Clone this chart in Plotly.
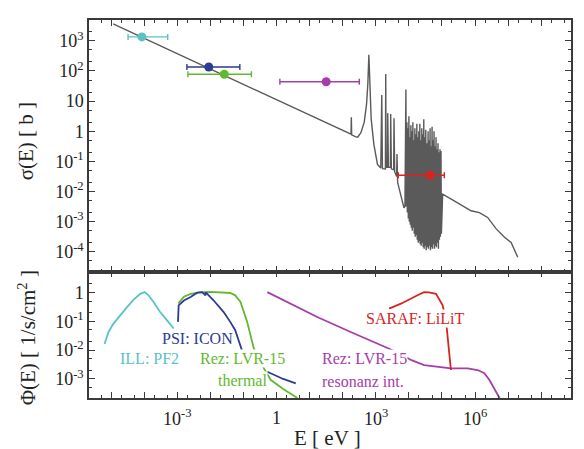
import numpy as np
import plotly.graph_objects as go
from plotly.subplots import make_subplots

# ---------------- data (log10 values) ----------------
# cross section sigma(E): smooth 1/v part + resolved resonances (log10 E [eV], log10 sigma [b])
xs_logE = [-4.94, 2.20, 2.25, 2.26, 2.27, 2.38, 2.45, 2.55, 2.65, 2.72, 2.76, 2.79, 2.82, 2.86,
           2.94, 3.05, 3.15, 3.18, 3.20, 3.29, 3.30, 3.31, 3.35, 3.36, 3.38, 3.44, 3.45, 3.47,
           3.54, 3.55, 3.57, 3.63, 3.64, 3.66, 3.70, 3.81, 3.85, 3.88]
xs_logS = [3.56, -0.08, -0.10, 0.46, -0.12, -0.18, -0.20, -0.05, 0.30, 0.90, 1.60, 2.54, 1.50, 0.40,
           -0.43, -1.10, -1.22, 1.20, -1.24, -1.25, 1.90, -1.20, -1.20, 0.60, -1.20, -1.20, 0.57, -1.25,
           -1.28, 0.43, -1.35, -1.50, -0.76, -1.70, -1.88, -2.31, -2.54, -2.50]
# unresolved resonance band (columns: log10 E, top, bottom)
band_logE = [3.91, 3.94, 3.97, 4.00, 4.03, 4.06, 4.09, 4.12, 4.15, 4.18, 4.21, 4.24, 4.27, 4.30,
             4.33, 4.36, 4.39, 4.42, 4.45, 4.48, 4.51, 4.55, 4.58, 4.61, 4.64, 4.67, 4.70, 4.73,
             4.76, 4.79, 4.82, 4.85, 4.88, 4.91, 4.94, 4.97]
band_top = [1.38, 0.30, 0.10, 0.50, -0.20, 0.20, 0.00, 0.30, -0.30, 0.10, -0.10, 0.25, -0.20, 0.00,
            0.25, -0.30, 0.10, -0.10, 0.40, -0.20, 0.05, -0.40, 0.00, -0.30, 0.10, -0.50, 0.15, -0.30,
            0.00, -0.50, -0.20, -0.60, -0.40, -0.70, -0.60, -0.66]
band_bot = [-2.50, -2.70, -2.90, -3.00, -3.10, -3.20, -3.30, -3.20, -3.40, -3.50, -3.45, -3.60, -3.70, -3.65,
            -3.75, -3.80, -3.70, -3.85, -3.90, -3.80, -3.95, -3.85, -3.90, -3.80, -3.95, -3.85, -3.90, -3.75,
            -3.90, -3.80, -3.85, -3.70, -3.90, -3.60, -3.50, -3.40]
tail_logE = [5.02, 5.37, 5.88, 6.13, 6.38, 6.64, 6.89, 7.09, 7.29]
tail_logS = [-2.09, -2.31, -2.64, -2.70, -2.86, -3.24, -3.52, -3.69, -4.18]

# measured points with energy ranges
pt_names = ["ILL: PF2", "PSI: ICON", "Rez: LVR-15 thermal", "Rez: LVR-15 resonanz int.", "SARAF: LiLiT"]
pt_logE = [-4.07, -2.05, -1.58, 1.50, 4.64]
pt_logS = [3.13, 2.13, 1.89, 1.64, -1.46]
pt_logE_lo = [-4.49, -2.71, -2.68, 0.10, 3.68]
pt_logE_hi = [-3.29, -1.11, -0.76, 2.50, 5.07]
pt_colors = ["#58c3c3", "#2c3b94", "#62b92f", "#a63dab", "#d8231f"]

# neutron spectra Phi(E) (log10 E, log10 Phi); None = gap
ill_logE = [-5.20, -5.15, -5.08, -4.93, -4.73, -4.52, -4.32, -4.12, -3.99, -3.87, -3.72, -3.52, -3.31, -3.11]
ill_logP = [-1.79, -1.60, -1.37, -1.08, -0.79, -0.51, -0.25, -0.05, 0.01, -0.10, -0.33, -0.68, -0.97, -1.25]
psi_logE = [-2.98, -2.96, -2.80, -2.60, -2.40, -2.25, -2.15, -2.14, -1.90, -1.60, -1.40, -1.25, -1.00,
            None, -0.28, -0.10, 0.20, 0.58]
psi_logP = [-1.02, -0.45, -0.28, -0.16, -0.01, 0.01, -0.10, 0.00, -0.28, -0.68, -1.02, -1.31, -2.17,
            None, -2.75, -2.85, -3.00, -3.15]
rth_logE = [-2.97, -2.80, -2.60, -2.30, -2.00, -1.70, -1.40, -1.25, -1.09, -0.89, -0.69, -0.40, -0.18, 0.20, 0.63]
rth_logP = [-0.38, -0.15, -0.05, 0.00, 0.02, 0.01, -0.02, -0.10, -0.33, -1.02, -1.93, -2.60, -3.03, -3.35, -3.66]
rres_logE = [-0.28, 0.22, 1.23, 2.24, 3.25, 3.70, 4.06, 4.46, 5.27, 5.78, 6.10, 6.28, 6.43, 6.60, 6.74]
rres_logP = [0.01, -0.28, -0.85, -1.37, -1.89, -2.10, -2.34, -2.52, -2.63, -2.63, -2.70, -2.80, -3.03, -3.35, -3.66]
sar_logE = [3.40, 3.76, 4.26, 4.46, 4.60, 4.82, 5.02, 5.10, 5.15, 5.20, 5.27]
sar_logP = [-0.56, -0.39, -0.10, 0.01, 0.00, -0.05, -0.45, -0.85, -1.30, -2.00, -2.69]

# tick labels
x_tick_exp = [-3, 0, 3, 6, 9]
x_tick_text = ["10<sup>-3</sup>", "1", "10<sup>3</sup>", "10<sup>6</sup>", "10<sup>9</sup>"]
y1_tick_exp = [3, 2, 1, 0, -1, -2, -3, -4]
y1_tick_text = ["10<sup>3</sup>", "10<sup>2</sup>", "10", "1", "10<sup>-1</sup>", "10<sup>-2</sup>",
                "10<sup>-3</sup>", "10<sup>-4</sup>"]
y2_tick_exp = [0, -1, -2, -3]
y2_tick_text = ["1", "10<sup>-1</sup>", "10<sup>-2</sup>", "10<sup>-3</sup>"]


def p10(v):
    return [None if a is None else 10.0 ** a for a in v]


# ---------------- figure ----------------
OFF = 8                     # default body margin of the html page
W, H = 584 - OFF, 449 - OFF
ML, MR, MT, MB = 89 - OFF, 13, 18 - OFF, 51
PH = H - MT - MB
split = 127 / PH
FONT = "Liberation Serif"
AX = "#3a3a3a"

fig = make_subplots(rows=2, cols=1, shared_xaxes=True, vertical_spacing=0)

# cross-section curve
cx, cy = list(xs_logE), list(xs_logS)
for e, t, b in zip(band_logE, band_top, band_bot):
    cx += [e, e + 0.012]
    cy += [t, b]
cx += tail_logE
cy += tail_logS
fig.add_trace(go.Scatter(x=p10(cx), y=p10(cy), mode="lines",
                         line=dict(color="#5a5a5a", width=1.4), showlegend=False), row=1, col=1)

for i in range(len(pt_names)):
    e = 10 ** pt_logE[i]
    fig.add_trace(go.Scatter(
        x=[e], y=[10 ** pt_logS[i]], mode="markers", name=pt_names[i], showlegend=False,
        marker=dict(color=pt_colors[i], size=9),
        error_x=dict(type="data", symmetric=False, array=[10 ** pt_logE_hi[i] - e],
                     arrayminus=[e - 10 ** pt_logE_lo[i]], color=pt_colors[i], thickness=1.4, width=3)),
        row=1, col=1)

spectra = [(ill_logE, ill_logP, pt_colors[0]), (rth_logE, rth_logP, pt_colors[2]),
           (psi_logE, psi_logP, pt_colors[1]), (rres_logE, rres_logP, pt_colors[3]),
           (sar_logE, sar_logP, pt_colors[4])]
for ex, py, c in spectra:
    fig.add_trace(go.Scatter(x=p10(ex), y=p10(py), mode="lines", connectgaps=False,
                             line=dict(color=c, width=1.8), showlegend=False), row=2, col=1)

axis_common = dict(type="log", showgrid=False, zeroline=False, showline=True, linecolor=AX, linewidth=1.5,
                   ticks="inside", ticklen=6, tickwidth=1.2, tickcolor=AX, mirror="ticks",
                   tickfont=dict(family=FONT, size=18, color="#222"),
                   minor=dict(ticks="inside", ticklen=3, tickwidth=1, tickcolor=AX, dtick="D2"))

all_dec = list(range(-5, 10))
fig.update_xaxes(**axis_common, range=[-5.67, 8.9], tickmode="array",
                 tickvals=[10.0 ** k for k in all_dec], showticklabels=False)

fig.update_yaxes(**axis_common, row=1, col=1, range=[-4.66, 3.69], tickmode="array",
                 tickvals=[10.0 ** k for k in y1_tick_exp], ticktext=y1_tick_text,
                 domain=[split, 1.0])
fig.update_yaxes(**axis_common, row=2, col=1, range=[-3.66, 0.72], tickmode="array",
                 tickvals=[10.0 ** k for k in y2_tick_exp], ticktext=y2_tick_text,
                 domain=[0.0, split])


def px_x(x):
    return (x - OFF - ML) / (W - ML - MR)


def px_y(y):
    return (H - MB - (y - OFF)) / PH


# x tick labels (every third decade)
for k, t in zip(x_tick_exp, x_tick_text):
    fig.add_annotation(text=t, xref="x2", yref="paper", x=k, y=px_y(418), xanchor="center",
                       yanchor="middle", showarrow=False, font=dict(family=FONT, size=18, color="#222"))

anns = [
    ("σ(E) [ b ]", 26, 140, "#222", 21, -90),
    ("Φ(E) [ 1/s/cm<sup>2</sup> ]", 27, 338, "#222", 21, -90),
    ("E [ eV ]", 327, 438, "#222", 21, 0),
    ("PSI: ICON", 197, 338, pt_colors[1], 16, 0),
    ("ILL: PF2", 149, 358, pt_colors[0], 16, 0),
    ("Rez: LVR-15", 242, 358, pt_colors[2], 16, 0),
    ("thermal", 242, 380, pt_colors[2], 16, 0),
    ("Rez: LVR-15", 364, 358, pt_colors[3], 16, 0),
    ("resonanz int.", 363, 381, pt_colors[3], 16, 0),
    ("SARAF: LiLiT", 415, 318, pt_colors[4], 16, 0),
]
for txt, x, y, c, s, ang in anns:
    inside = ang == 0 and s == 16
    fig.add_annotation(text=txt, xref="paper", yref="paper", x=px_x(x), y=px_y(y),
                       xanchor="center", yanchor="middle", showarrow=False, textangle=ang,
                       font=dict(family=FONT, size=s, color=c),
                       bgcolor="white" if inside else None, borderpad=0)

fig.update_layout(width=W, height=H, margin=dict(l=ML, r=MR, t=MT, b=MB),
                  paper_bgcolor="white", plot_bgcolor="white", showlegend=False,
                  font=dict(family=FONT))

fig.write_html("out.html")
